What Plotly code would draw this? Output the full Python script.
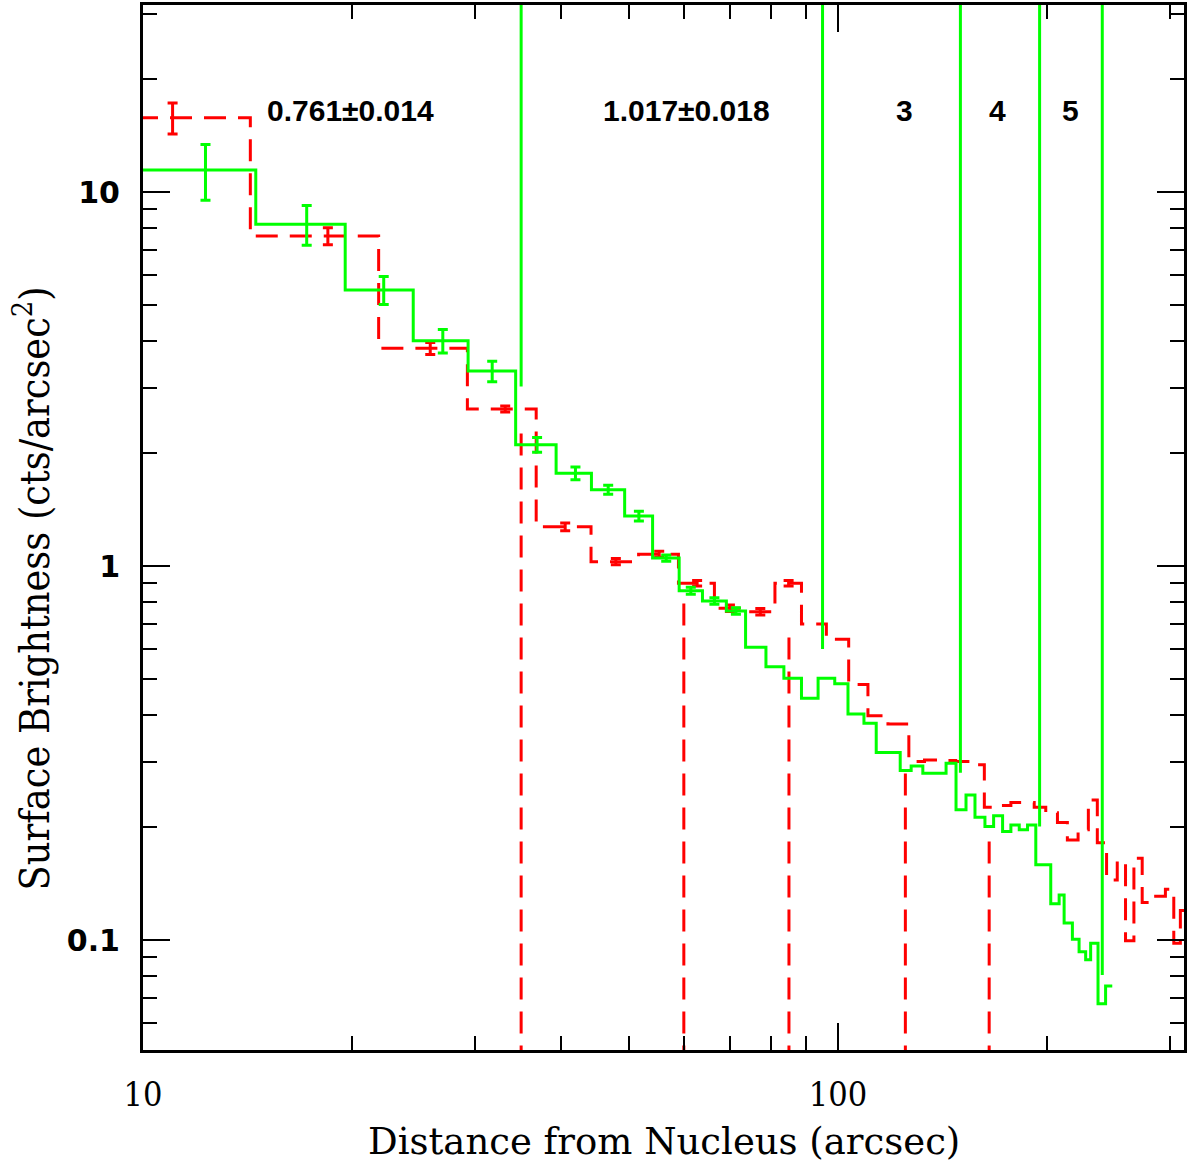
import numpy as np
import plotly.graph_objects as go

# ---------------- data ----------------
green_edges = [10.0, 14.53, 19.54, 24.48, 29.36, 34.37, 39.30, 44.18, 49.32, 54.10,
               59.08, 63.82, 69.08, 73.62, 78.76, 83.58, 88.60, 93.61, 98.92, 103.36,
               108.97, 113.49, 122.88, 127.42, 132.44, 143.04, 147.84, 152.81, 157.42, 162.70,
               167.45, 172.50, 177.30, 182.29, 187.36, 192.56, 202.34, 208.04, 211.50, 217.38,
               222.25, 227.15, 230.93, 236.64, 242.65, 248.08]
green_vals = [11.45, 8.20, 5.47, 4.00, 3.32, 2.11, 1.77, 1.60, 1.36, 1.05,
              0.859, 0.806, 0.758, 0.606, 0.538, 0.501, 0.443, 0.501, 0.484, 0.402,
              0.380, 0.317, 0.284, 0.292, 0.279, 0.297, 0.223, 0.244, 0.213, 0.201,
              0.215, 0.195, 0.203, 0.197, 0.203, 0.159, 0.125, 0.132, 0.111, 0.1005,
              0.093, 0.0885, 0.098, 0.0675, 0.0753]
green_err_x = [12.3, 17.2, 22.2, 27.0, 31.8, 36.9, 41.9, 46.7, 51.7, 56.6,
               61.4, 66.4, 71.3]
green_err_y = [11.45, 8.20, 5.47, 4.00, 3.32, 2.11, 1.77, 1.60, 1.36, 1.05,
               0.859, 0.806, 0.758]
green_err = [1.95, 1.0, 0.47, 0.29, 0.21, 0.095, 0.07, 0.045, 0.04, 0.02,
             0.018, 0.016, 0.015]

red_edges = [7.8, 14.27, 21.83, 29.29, 36.79, 44.12, 51.65, 58.94, 66.40, 73.47,
             81.14, 88.60, 96.21, 103.60, 110.42, 117.99, 126.45, 133.18, 141.49, 147.69,
             155.35, 162.38, 169.68, 177.30, 191.55, 199.02, 206.88, 213.79, 221.52, 229.18,
             236.09, 243.45, 252.21, 259.22, 266.52, 273.93, 281.54, 295.84, 304.16, 310.86,
             317.8]
red_vals = [15.8, 7.63, 3.82, 2.63, 1.273, 1.027, 1.075, 0.899, 0.771, 0.755,
            0.899, 0.700, 0.637, 0.482, 0.398, 0.378, 0.300, 0.303, 0.302, 0.300,
            0.294, 0.2265, 0.229, 0.233, 0.2265, 0.219, 0.206, 0.185, 0.197, 0.2367,
            0.182, 0.1447, 0.1626, 0.0996, 0.1653, 0.1259, 0.131, 0.1367, 0.098, 0.120]
red_err_x = [11.03, 18.45, 25.9, 33.2, 40.5, 47.9, 55.3, 62.7, 69.9, 77.3, 84.9]
red_err_y = [15.8, 7.63, 3.82, 2.63, 1.273, 1.027, 1.075, 0.899, 0.771, 0.755, 0.899]
red_err = [1.5, 0.4, 0.14, 0.05, 0.03, 0.02, 0.02, 0.015, 0.015, 0.015, 0.015]

green_vlines_x = [35, 95, 150, 195, 240]
green_vlines_bottom = [3.02, 0.60, 0.28, 0.201, 0.0806]
red_vlines_x = [35, 60, 85, 125, 165]
red_vlines_top = [2.3, 0.80, 0.69, 0.30, 0.197]

region_labels = ["0.761±0.014", "1.017±0.018", "3", "4", "5"]
region_label_x = [19.9, 60.5, 124.7, 169.7, 216.0]
region_label_y = 16.5

x_major = [10, 100]
x_minor = [20, 30, 40, 50, 60, 70, 80, 90, 200, 300]
y_major = [0.1, 1, 10]
y_minor = [0.06, 0.07, 0.08, 0.09, 0.2, 0.3, 0.4, 0.5, 0.6, 0.7, 0.8, 0.9,
           2, 3, 4, 5, 6, 7, 8, 9, 20, 30]

GREEN = "#00ff00"
RED = "#ff0000"
SERIF = "DejaVu Serif Condensed"

fig = go.Figure()

# red dashed profile
fig.add_trace(go.Scatter(x=red_edges, y=red_vals + [red_vals[-1]], mode="lines",
                         line=dict(color=RED, width=3, dash="22px,12px", shape="hv"),
                         hoverinfo="skip", showlegend=False))
fig.add_trace(go.Scatter(x=red_err_x, y=red_err_y, mode="markers",
                         marker=dict(size=1, color=RED, opacity=0),
                         error_y=dict(type="data", array=red_err, color=RED,
                                      thickness=3, width=5),
                         showlegend=False))
# red dashed vertical lines
rvx, rvy = [], []
for xv, yt in zip(red_vlines_x, red_vlines_top):
    rvx += [xv, xv, None]
    rvy += [0.03, yt, None]
fig.add_trace(go.Scatter(x=rvx, y=rvy, mode="lines",
                         line=dict(color=RED, width=3, dash="22px,12px"),
                         showlegend=False))

# green profile
fig.add_trace(go.Scatter(x=green_edges, y=green_vals + [green_vals[-1]], mode="lines",
                         line=dict(color=GREEN, width=3, shape="hv"),
                         showlegend=False))
fig.add_trace(go.Scatter(x=green_err_x, y=green_err_y, mode="markers",
                         marker=dict(size=1, color=GREEN, opacity=0),
                         error_y=dict(type="data", array=green_err, color=GREEN,
                                      thickness=3, width=5),
                         showlegend=False))
gvx, gvy = [], []
for xv, yb in zip(green_vlines_x, green_vlines_bottom):
    gvx += [xv, xv, None]
    gvy += [50, yb, None]
fig.add_trace(go.Scatter(x=gvx, y=gvy, mode="lines",
                         line=dict(color=GREEN, width=3), showlegend=False))

for t, xv in zip(region_labels, region_label_x):
    fig.add_annotation(x=np.log10(xv), y=np.log10(region_label_y), xref="x", yref="y",
                       text="<b>" + t + "</b>", showarrow=False,
                       xanchor="center", yanchor="middle",
                       font=dict(family="Liberation Sans", size=30, color="black"))

fig.add_annotation(x=0.5, y=-0.0871, xref="paper", yref="paper",
                   xanchor="center", yanchor="middle",
                   text="Distance from Nucleus (arcsec)", showarrow=False,
                   font=dict(family="DejaVu Serif", size=37, color="black"))
fig.add_annotation(x=-0.1063, y=0.442, xref="paper", yref="paper", textangle=-90,
                   xanchor="center", yanchor="middle",
                   text="Surface Brightness (cts/arcsec<sup>2</sup>)", showarrow=False,
                   font=dict(family=SERIF, size=41, color="black"))

axis_common = dict(type="log", showgrid=False, zeroline=False, showline=True,
                   linewidth=3, linecolor="black", mirror="allticks",
                   ticks="inside", ticklen=27, tickwidth=2, tickcolor="black")

fig.update_xaxes(**axis_common, range=[1, 2.4978], tickvals=x_major,
                 ticktext=[str(v) for v in x_major],
                 tickfont=dict(family=SERIF, size=34, color="black"),
                 ticklabelstandoff=12,
                 minor=dict(tickvals=x_minor, ticks="inside", ticklen=14,
                            tickwidth=2, tickcolor="black"))
fig.update_yaxes(**axis_common, range=[-1.2941, 1.5], tickvals=y_major,
                 ticktext=["0.1", "1", "10"],
                 tickfont=dict(family="DejaVu Sans", size=30, color="black",
                               weight="bold"),
                 ticklabelstandoff=14,
                 minor=dict(tickvals=y_minor, ticks="inside", ticklen=14,
                            tickwidth=2, tickcolor="black"))

fig.update_layout(width=1189, height=1166, margin=dict(l=143, r=2, t=5, b=116),
                  paper_bgcolor="white", plot_bgcolor="white")

fig.write_html("out.html")
